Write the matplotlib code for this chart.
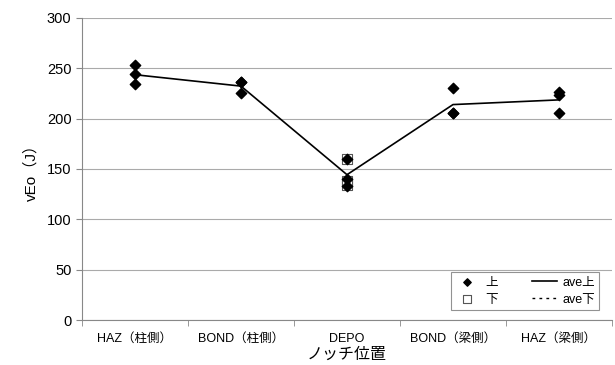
import matplotlib
matplotlib.use('Agg')
import matplotlib.pyplot as plt
import numpy as np

plt.rcParams['font.family'] = ['Liberation Sans', 'Noto Sans CJK JP', 'DejaVu Sans']

# data
categories = ['HAZ（柱側）', 'BOND（柱側）', 'DEPO', 'BOND（梁側）', 'HAZ（梁側）']
upper_vals = [[253, 244, 234],
              [236, 236, 225],
              [160, 140, 133],
              [230, 206, 206],
              [226, 224, 206]]
lower_vals = [[], [], [160, 138, 134], [], []]

x = np.arange(len(categories))
ave_up = [np.mean(v) for v in upper_vals]
ave_lo = [np.mean(v) if v else np.nan for v in lower_vals]

fig = plt.figure(figsize=(6.15, 3.65), dpi=100)
ax = fig.add_axes([82 / 615, 45 / 365, 530 / 615, 302 / 365])

for i, v in enumerate(lower_vals):
    if v:
        ax.scatter([x[i]] * len(v), v, marker='s', s=42, facecolor='white',
                   edgecolor='#555555', linewidth=0.8, zorder=3)
for i, v in enumerate(upper_vals):
    ax.scatter([x[i]] * len(v), v, marker='D', s=28, color='black', zorder=4)

ax.plot(x, ave_up, color='black', linewidth=1.2, zorder=2)
ax.plot(x, ave_lo, color='black', linewidth=1.0, linestyle='--', zorder=2)

# legend handles
h1 = ax.scatter([], [], marker='D', s=14, color='black')
h2 = ax.scatter([], [], marker='s', s=30, facecolor='white', edgecolor='#555555', linewidth=0.8)
h3, = ax.plot([], [], color='black', linewidth=1.2)
h4, = ax.plot([], [], color='black', linewidth=1.0, linestyle=(0, (2, 3)))
leg = ax.legend([h1, h2, h3, h4], ['上', '下', 'ave上', 'ave下'], ncol=2,
                loc='lower right', bbox_to_anchor=(0.988, 0.012), fontsize=9,
                frameon=True, fancybox=False, edgecolor='#777777',
                handlelength=2.0, columnspacing=2.8, labelspacing=0.4,
                borderpad=0.35, handletextpad=0.4)
leg.get_frame().set_linewidth(0.8)

ax.set_xlim(-0.5, len(categories) - 0.5)
ax.set_ylim(0, 300)
ax.set_yticks(range(0, 301, 50))
ax.set_xticks(x)
ax.set_xticklabels(categories, fontsize=9)
ax.set_xticks(np.arange(-0.5, len(categories), 1), minor=True)
ax.tick_params(axis='x', which='major', length=0, pad=9)
ax.tick_params(axis='x', which='minor', length=4, color='#888888')
ax.tick_params(axis='y', labelsize=10.5, length=4, color='#888888')
ax.grid(axis='y', color='#aaaaaa', linewidth=0.8)
ax.set_axisbelow(True)
for s in ['top', 'right']:
    ax.spines[s].set_visible(False)
for s in ['left', 'bottom']:
    ax.spines[s].set_color('#888888')
ax.set_ylabel('vEo（J）', fontsize=11, labelpad=6)
ax.set_xlabel('ノッチ位置', fontsize=11.5, labelpad=2)

fig.savefig('out.png', dpi=100)
